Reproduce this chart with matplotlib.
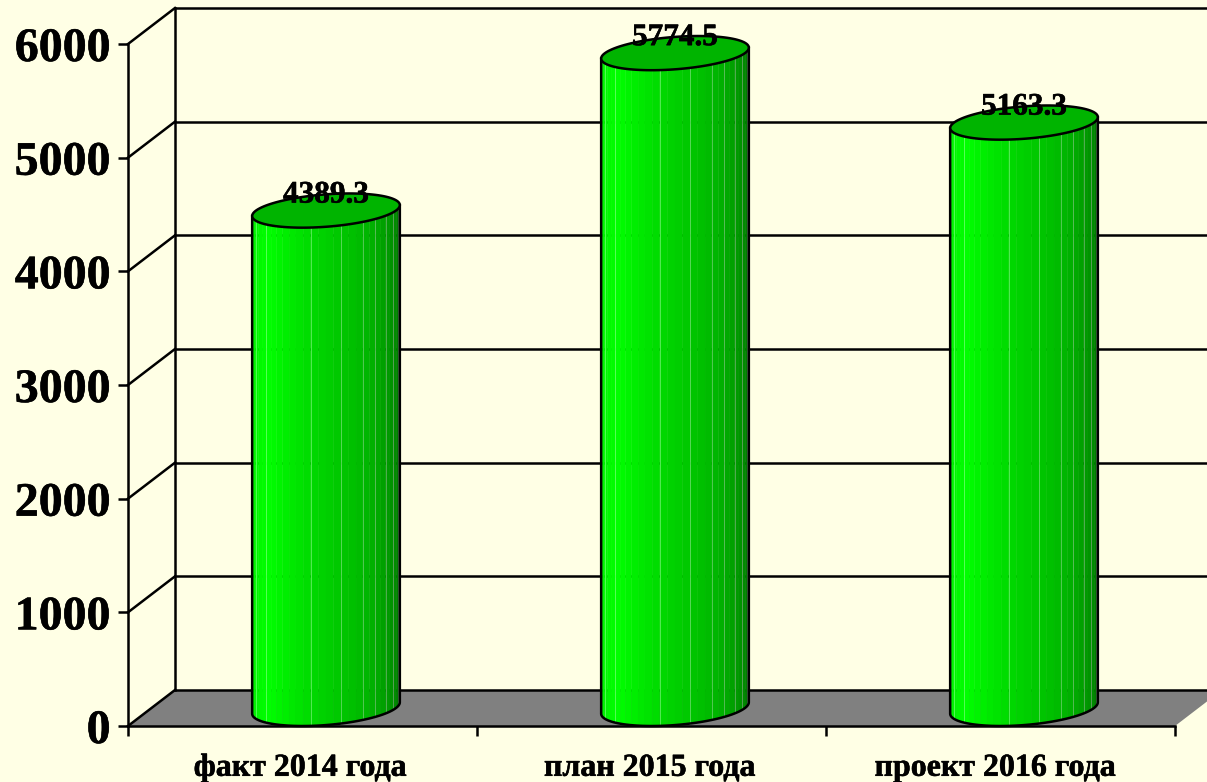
import matplotlib
matplotlib.use('Agg')
import matplotlib.pyplot as plt
import matplotlib.patheffects as pe
from matplotlib.patches import Polygon
from matplotlib.transforms import ScaledTranslation
import numpy as np

categories = ['факт 2014 года', 'план 2015 года', 'проект 2016 года']
values = [4389.3, 5774.5, 5163.3]
yticks = [0, 1000, 2000, 3000, 4000, 5000, 6000]

W, H = 1207, 782
bg = '#FFFFE5'
plt.rcParams['font.family'] = ['Liberation Serif', 'DejaVu Serif']
plt.rcParams['font.weight'] = 'bold'

fig = plt.figure(figsize=(W / 100, H / 100), dpi=100, facecolor=bg)
ax = fig.add_axes([128 / W, 1 - 726 / H, (1175 - 128) / W, (726 - 44) / H])
ax.set_facecolor('none')
ax.set_xlim(0, 3)
ax.set_ylim(0, 6000)

# depth of the fake 3d box, in data units
dx = 47 / 349
dy = 36 * 6000 / 682
lw = 1.8
heavy = [pe.withStroke(linewidth=0.4, foreground='k')]

# floor and walls
ax.add_patch(Polygon([(0, 0), (3, 0), (3 + dx, dy), (dx, dy)], closed=True, fc='#808080', ec='none', clip_on=False, zorder=1))
for v in yticks:
    ax.plot([0, dx], [v, v + dy], color='k', lw=lw, clip_on=False, zorder=2)
    ax.plot([dx, 3 + dx], [v + dy, v + dy], color='k', lw=lw, clip_on=False, zorder=2)
ax.plot([dx, dx], [dy, 6000 + dy], color='k', lw=lw, clip_on=False, zorder=2)
ax.plot([0, 3], [0, 0], color='k', lw=lw, clip_on=False, zorder=2)

# cylinders
rx = 70 / 349
t0 = np.arctan2(dx / 2, rx)
stops = [0, 0.1, 0.22, 0.45, 0.7, 0.88, 1]
greens = [225, 245, 255, 215, 180, 140, 95]
nstrip = 30
pale = [3, 6, 13, 17, 20, 22, 24, 26, 28]
cap_h = 0.95
cap_drop = 13


def ellipse(cx, cy, t, squash=1):
    return cx + rx * np.cos(t) + dx / 2 * np.sin(t), cy + squash * dy / 2 * np.sin(t)


for i, val in enumerate(values):
    cx = i + 0.5 + dx / 2
    top = val + dy / 2 - cap_drop
    # side strips, left to right, over the visible half
    edge = np.cos(np.linspace(np.pi, 0, nstrip + 1))
    ts = t0 + np.pi + np.arccos(-edge)
    for k in range(nstrip):
        t = np.linspace(ts[k], ts[k + 1], 6)
        xs, ys = ellipse(cx, dy / 2, t)
        xt, yt = ellipse(cx, top, t[::-1], cap_h)
        g = np.interp((k + 0.5) / nstrip, stops, greens) / 255
        ax.fill(np.r_[xs, xt], np.r_[ys, yt], color=(0, g, 0), lw=0.3, clip_on=False, zorder=3)
        if k in pale:
            ax.plot([xs[0], xt[-1]], [ys[0], yt[-1]], color=(0.45, min(g + 0.1, 1), 0.45), lw=0.5, clip_on=False, zorder=3.1)
    # outline of side
    t = np.linspace(t0 + np.pi, t0 + 2 * np.pi, 60)
    xs, ys = ellipse(cx, dy / 2, t)
    ax.plot(np.r_[xs[0], xs, xs[-1]], np.r_[top + cap_h * dy / 2 * np.sin(t[0]), ys, top + cap_h * dy / 2 * np.sin(t[-1])],
            color='k', lw=lw, clip_on=False, zorder=4)
    # top cap
    t = np.linspace(0, 2 * np.pi, 120)
    xt, yt = ellipse(cx, top, t, cap_h)
    ax.fill(xt, yt, fc='#00B400', ec='k', lw=lw, clip_on=False, zorder=5)
    ax.text(cx, val + dy - 35, f'{val:.1f}', ha='center', va='center', fontsize=22.5, fontweight='bold',
            color='k', zorder=6, path_effects=heavy)

# axes
for s in ['top', 'right', 'bottom']:
    ax.spines[s].set_visible(False)
ax.spines['left'].set_linewidth(lw)
ax.set_yticks(yticks)
ax.set_yticklabels([str(v) for v in yticks], fontsize=34.5, fontweight='bold', path_effects=heavy)
ax.set_xticks([0, 1, 2, 3])
ax.set_xticklabels([])
ax.set_xticks([0.5, 1.5, 2.5], minor=True)
ax.set_xticklabels(categories, minor=True, fontsize=23, fontweight='bold', path_effects=heavy)
ax.tick_params(axis='y', length=7, width=lw, pad=5.5)
ax.tick_params(axis='x', which='major', length=7, width=lw)
ax.tick_params(axis='x', which='minor', length=0, pad=20)

# third label sits a bit left of its slot in the original
for lab, shift in zip(ax.get_xticklabels(minor=True), [-2, -1.5, -5]):
    lab.set_transform(lab.get_transform() + ScaledTranslation(shift / 100, 0, fig.dpi_scale_trans))

fig.savefig('out.png', dpi=100, facecolor=bg)
